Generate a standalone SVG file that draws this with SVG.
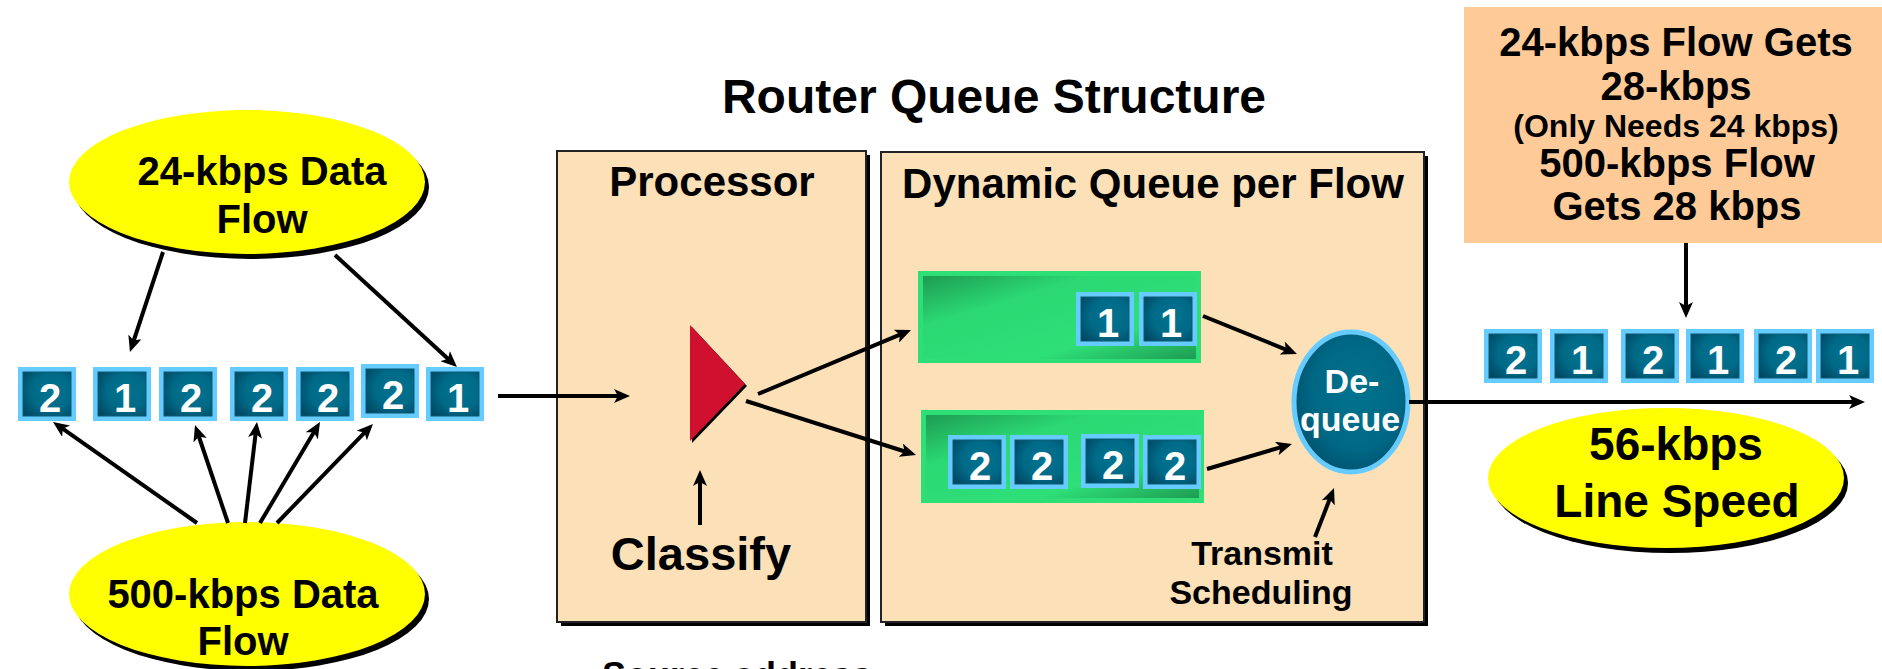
<svg xmlns="http://www.w3.org/2000/svg" width="1882" height="669" viewBox="0 0 1882 669">
  <style>
    text { font-family: "Liberation Sans", Arial, sans-serif; font-weight: bold; fill: #000; }
    .c { text-anchor: middle; }
    .t40 { font-size: 40px; }
    .hdr { font-size: 42px; }
    .num { font-size: 40px; fill: #fff; text-anchor: middle; }
    .wht { fill: #fff; }
    .panel { fill: #FBE0B8; stroke: #222; stroke-width: 2; }
    .shadow { fill: #000; }
    .yel { fill: #FFFF00; }
    .qout { fill: #2EDF78; }
    .conn line { stroke: #000; stroke-width: 4; marker-end: url(#ah); }
  </style>
  <defs>
    <radialGradient id="pg" cx="0.6" cy="0.45" r="0.75">
      <stop offset="0" stop-color="#007391"/>
      <stop offset="0.55" stop-color="#006A87"/>
      <stop offset="1" stop-color="#004761"/>
    </radialGradient>
    <radialGradient id="dg" cx="0.55" cy="0.45" r="0.65">
      <stop offset="0" stop-color="#00738F"/>
      <stop offset="0.6" stop-color="#006885"/>
      <stop offset="1" stop-color="#004B66"/>
    </radialGradient>
    <linearGradient id="qg" x1="0" y1="0" x2="1" y2="1">
      <stop offset="0" stop-color="#1E9C52"/>
      <stop offset="0.3" stop-color="#2BD873"/>
      <stop offset="0.7" stop-color="#2EDF78"/>
      <stop offset="1" stop-color="#1E9C52"/>
    </linearGradient>
    <g id="pkt">
      <rect width="58" height="54" fill="#66CCFF"/>
      <rect x="5" y="5" width="48" height="44" fill="url(#pg)" stroke="#0B5A73" stroke-width="1"/>
    </g>
    <marker id="ah" viewBox="0 0 16 14" refX="6" refY="7" markerWidth="16" markerHeight="14" orient="auto" markerUnits="userSpaceOnUse">
      <path d="M0,0 L16,7 L0,14 L4,7 Z" fill="#000"/>
    </marker>
  </defs>

  <rect width="1882" height="669" fill="#fff"/>

  <!-- title -->
  <text id="title" class="c" x="994" y="113" font-size="48">Router Queue Structure</text>

  <!-- panels -->
  <g id="processor">
    <rect class="shadow" x="561" y="155" width="309" height="471"/>
    <rect class="panel" x="557" y="151" width="309" height="471"/>
    <text class="c hdr" x="712" y="196">Processor</text>
    <polygon points="692,327 747,386 692,443" fill="#000"/>
    <polygon points="690,325 745,384 690,441" fill="#CF102F"/>
    <text class="c" x="701" y="570" font-size="47">Classify</text>
  </g>

  <g id="dynamic-queue">
    <rect class="shadow" x="885" y="156" width="543" height="470"/>
    <rect class="panel" x="881" y="152" width="543" height="470"/>
    <text class="c hdr" x="1153" y="198">Dynamic Queue per Flow</text>
  </g>

  <g id="queue-1">
    <rect class="qout" x="918" y="271" width="283" height="92"/>
    <rect x="923" y="276" width="273" height="83" fill="url(#qg)"/>
    <use href="#pkt" x="1076" y="292"/><text class="num" x="1108" y="337">1</text>
    <use href="#pkt" x="1139" y="292"/><text class="num" x="1171" y="337">1</text>
  </g>

  <g id="queue-2">
    <rect class="qout" x="921" y="410" width="283" height="93"/>
    <rect x="926" y="415" width="273" height="83" fill="url(#qg)"/>
    <use href="#pkt" x="948" y="435"/><text class="num" x="980" y="480">2</text>
    <use href="#pkt" x="1010" y="435"/><text class="num" x="1042" y="480">2</text>
    <use href="#pkt" x="1081" y="434"/><text class="num" x="1113" y="479">2</text>
    <use href="#pkt" x="1143" y="435"/><text class="num" x="1175" y="480">2</text>
  </g>

  <g id="dequeue">
    <ellipse cx="1351" cy="402" rx="57" ry="70" fill="url(#dg)" stroke="#66CCFF" stroke-width="5"/>
    <text class="c wht" x="1352" y="393" font-size="34">De-</text>
    <text class="c wht" x="1350" y="431" font-size="34">queue</text>
  </g>

  <g id="transmit-label">
    <text class="c" x="1262" y="565" font-size="34">Transmit</text>
    <text class="c" x="1261" y="604" font-size="34">Scheduling</text>
  </g>

  <!-- traffic sources -->
  <g id="flow-24">
    <ellipse class="shadow" cx="251" cy="187" rx="178" ry="72"/>
    <ellipse class="yel" cx="247" cy="182" rx="178" ry="72"/>
    <text class="c t40" x="262" y="185">24-kbps Data</text>
    <text class="c t40" x="262" y="233">Flow</text>
  </g>

  <g id="flow-500">
    <ellipse class="shadow" cx="251" cy="599" rx="178" ry="72"/>
    <ellipse class="yel" cx="247" cy="594" rx="178" ry="72"/>
    <text class="c t40" x="243" y="608">500-kbps Data</text>
    <text class="c t40" x="243" y="655">Flow</text>
  </g>

  <g id="input-packets">
    <use href="#pkt" x="18" y="367"/><text class="num" x="50" y="412">2</text>
    <use href="#pkt" x="93" y="367"/><text class="num" x="125" y="412">1</text>
    <use href="#pkt" x="159" y="367"/><text class="num" x="191" y="412">2</text>
    <use href="#pkt" x="230" y="367"/><text class="num" x="262" y="412">2</text>
    <use href="#pkt" x="296" y="367"/><text class="num" x="328" y="412">2</text>
    <use href="#pkt" x="361" y="364"/><text class="num" x="393" y="409">2</text>
    <use href="#pkt" x="426" y="367"/><text class="num" x="458" y="412">1</text>
  </g>

  <!-- outbound link -->
  <g id="result-note">
    <rect x="1464" y="7" width="418" height="236" fill="#FECB98"/>
    <text class="c t40" x="1676" y="56">24-kbps Flow Gets</text>
    <text class="c t40" x="1676" y="100">28-kbps</text>
    <text class="c" x="1676" y="137" font-size="32">(Only Needs 24 kbps)</text>
    <text class="c t40" x="1677" y="177">500-kbps Flow</text>
    <text class="c t40" x="1677" y="220">Gets 28 kbps</text>
  </g>

  <g id="output-packets">
    <use href="#pkt" x="1484" y="329"/><text class="num" x="1516" y="374">2</text>
    <use href="#pkt" x="1550" y="329"/><text class="num" x="1582" y="374">1</text>
    <use href="#pkt" x="1621" y="329"/><text class="num" x="1653" y="374">2</text>
    <use href="#pkt" x="1686" y="329"/><text class="num" x="1718" y="374">1</text>
    <use href="#pkt" x="1754" y="329"/><text class="num" x="1786" y="374">2</text>
    <use href="#pkt" x="1816" y="329"/><text class="num" x="1848" y="374">1</text>
  </g>

  <g id="line-speed">
    <ellipse class="shadow" cx="1670" cy="483" rx="178" ry="70"/>
    <ellipse class="yel" cx="1666" cy="478" rx="178" ry="70"/>
    <text class="c" x="1676" y="460" font-size="46">56-kbps</text>
    <text class="c" x="1677" y="517" font-size="46">Line Speed</text>
  </g>

  <!-- caption running off the bottom edge -->
  <text id="source-address" x="602" y="688" font-size="36">Source address</text>

  <!-- connectors -->
  <g id="connectors" class="conn">
    <line x1="163" y1="252" x2="133.1" y2="342.5"/>
    <line x1="335" y1="255" x2="449.6" y2="360.2"/>
    <line x1="197" y1="523" x2="61.2" y2="427.7"/>
    <line x1="228" y1="523" x2="198.2" y2="434.5"/>
    <line x1="245" y1="523" x2="255.8" y2="431.9"/>
    <line x1="260" y1="523" x2="314.9" y2="430.6"/>
    <line x1="277" y1="523" x2="366" y2="431.2"/>
    <line x1="498" y1="396" x2="620" y2="396"/>
    <line x1="758" y1="394" x2="901.8" y2="333.9"/>
    <line x1="746" y1="401" x2="906.5" y2="452"/>
    <line x1="700" y1="525" x2="700" y2="480"/>
    <line x1="1203" y1="316" x2="1287.7" y2="350.3"/>
    <line x1="1207" y1="469" x2="1282.4" y2="446.8"/>
    <line x1="1315" y1="537" x2="1330.4" y2="497.3"/>
    <line x1="1409" y1="402" x2="1855" y2="402"/>
    <line x1="1686" y1="243" x2="1686" y2="308"/>
  </g>
</svg>
